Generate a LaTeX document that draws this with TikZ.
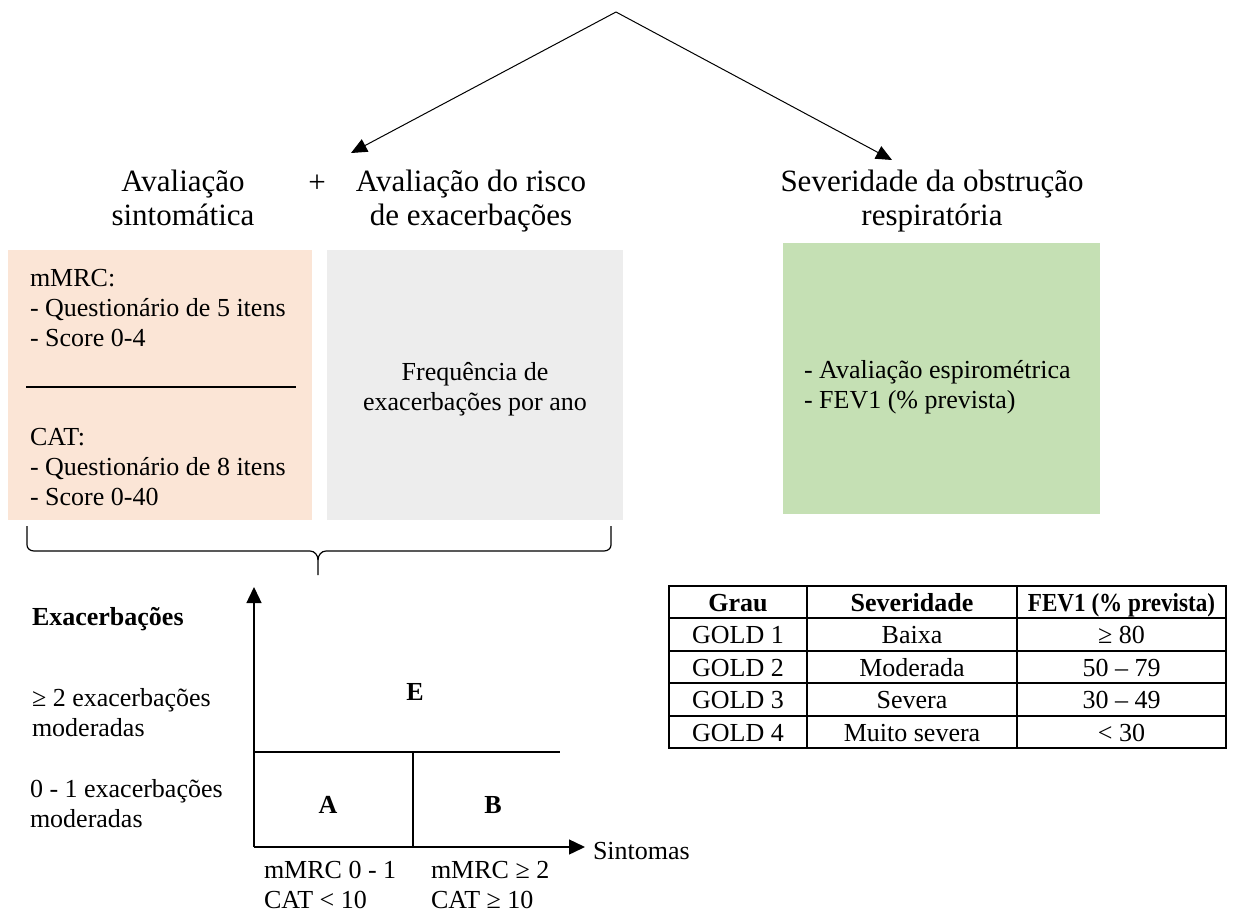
\documentclass[tikz,border=0pt]{standalone}
\usepackage{fontspec}
\usepackage{graphicx}
\setmainfont{Liberation Serif}
\usetikzlibrary{arrows.meta}
\definecolor{pinkfill}{HTML}{FBE5D6}
\definecolor{greyfill}{HTML}{EDEDED}
\definecolor{greenfill}{HTML}{C5E0B4}
\begin{document}
\begin{tikzpicture}[x=1pt,y=-1pt,
  fillbox/.style={draw=none,inner sep=0pt,outer sep=0pt},
  body/.style={font=\fontsize{26}{30}\selectfont,inner sep=0pt,outer sep=0pt},
  bodybold/.style={font=\fontsize{26}{30}\selectfont\bfseries,inner sep=0pt,outer sep=0pt},
  head/.style={font=\fontsize{31}{34}\selectfont,inner sep=0pt,outer sep=0pt,align=center,anchor=north},
  toparrow/.style={line width=1pt,-{Triangle[length=16pt,width=14pt]}},
  axisline/.style={line width=1.4pt},
  axisarrow/.style={line width=1.4pt,-{Triangle[length=16pt,width=15pt]}},
  gridline/.style={line width=1.8pt},
  cell/.style={font=\fontsize{26}{30}\selectfont,inner sep=0pt,anchor=base},
  cellhead/.style={font=\fontsize{26}{30}\selectfont\bfseries,inner sep=0pt,anchor=base}
]
\useasboundingbox (0,0) rectangle (1234,918);

% ---- top arrows ----
\coordinate (apex) at (616,12);
\coordinate (lefttip) at (351,153);
\coordinate (righttip) at (892,160);
\draw[toparrow] (apex) -- (lefttip);
\draw[toparrow] (apex) -- (righttip);

% ---- headers ----
\node[head] (symhead) at (183,168) {\strut Avaliação\\sintomática};
\node[font=\fontsize{31}{34}\selectfont,inner sep=0pt,anchor=base] (plus) at (317,192) {+};
\node[head] (riskhead) at (471,168) {\strut Avaliação do risco\\de exacerbações};
\node[head] (sevhead) at (932,168) {\strut Severidade da obstrução\\respiratória};

% ---- boxes ----
\node[fillbox,fill=pinkfill,minimum width=304pt,minimum height=270pt] (symbox) at (160,384.5) {};
\node[fillbox,fill=greyfill,minimum width=296pt,minimum height=270pt] (riskbox) at (475,384.5) {};
\node[fillbox,fill=greenfill,minimum width=317pt,minimum height=271pt] (sevbox) at (941.5,378.5) {};

\node[body,align=left,anchor=north west] (mmrctext) at (30,265) {\strut mMRC:\\- Questionário de 5 itens\\- Score 0-4};
\draw[line width=2pt] (26,387) -- (296,387);
\node[body,align=left,anchor=north west] (cattext) at (30,424) {\strut CAT:\\- Questionário de 8 itens\\- Score 0-40};
\node[body,align=center,anchor=north] (risktext) at (475,359) {\strut Frequência de\\exacerbações por ano};
\node[body,align=left,anchor=north west] (sevtext) at (804,357) {\strut - Avaliação espirométrica\\- FEV1 (\% prevista)};

% ---- brace ----
\coordinate (bracetip) at (318,575);
\draw[line width=1.2pt] (27,526) -- (27,545) to[out=-90,in=180] (34,551) -- (310,551)
  to[out=0,in=90] (318,560) -- (bracetip);
\draw[line width=1.2pt] (611,526) -- (611,545) to[out=-90,in=0] (604,551) -- (326,551)
  to[out=180,in=90] (318,560);

% ---- chart ----
\coordinate (origin) at (254,847);
\coordinate (ytop) at (254,587);
\coordinate (xend) at (585,847);
\coordinate (midleft) at (254,752);
\coordinate (midright) at (560,752);
\coordinate (divtop) at (413,752);
\coordinate (divbot) at (413,847);
\draw[axisarrow] (origin) -- (ytop);
\draw[axisarrow] (origin) -- (xend);
\draw[axisline] (midleft) -- (midright);
\draw[axisline] (divtop) -- (divbot);

\node[bodybold,anchor=center] (gE) at (415,692) {E};
\node[bodybold,anchor=center] (gA) at (328,805) {A};
\node[bodybold,anchor=center] (gB) at (493,805) {B};

\node[bodybold,anchor=base west] (exlabel) at (32,625) {Exacerbações};
\node[body,align=left,anchor=north west] (hilabel) at (32,685) {\strut ≥ 2 exacerbações\\moderadas};
\node[body,align=left,anchor=north west] (lolabel) at (30,776) {\strut 0 - 1 exacerbações\\moderadas};
\node[body,align=left,anchor=north west] (xlowlabel) at (264,857) {\strut mMRC 0 - 1\\CAT < 10};
\node[body,align=left,anchor=north west] (xhighlabel) at (431,857) {\strut mMRC ≥ 2\\CAT ≥ 10};
\node[body,anchor=base west] (symlabel) at (593,859) {Sintomas};

% ---- table ----
\draw[gridline] (669,586) rectangle (1226,748);
\foreach \yy in {618,651,683,716} \draw[gridline] (669,\yy) -- (1226,\yy);
\draw[gridline] (807,586) -- (807,748);
\draw[gridline] (1017,586) -- (1017,748);

\node[cellhead] (h1) at (738,611) {Grau};
\node[cellhead] (h2) at (912,611) {Severidade};
\node[cellhead] (h3) at (1121.5,611) {\scalebox{0.89}[1]{FEV1 (\% prevista)}};

\node[cell] (r1a) at (738,643) {GOLD 1};
\node[cell] (r1b) at (912,643) {Baixa};
\node[cell] (r1c) at (1121.5,643) {≥ 80};
\node[cell] (r2a) at (738,676) {GOLD 2};
\node[cell] (r2b) at (912,676) {Moderada};
\node[cell] (r2c) at (1121.5,676) {50 – 79};
\node[cell] (r3a) at (738,708) {GOLD 3};
\node[cell] (r3b) at (912,708) {Severa};
\node[cell] (r3c) at (1121.5,708) {30 – 49};
\node[cell] (r4a) at (738,741) {GOLD 4};
\node[cell] (r4b) at (912,741) {Muito severa};
\node[cell] (r4c) at (1121.5,741) {< 30};
\end{tikzpicture}
\end{document}
